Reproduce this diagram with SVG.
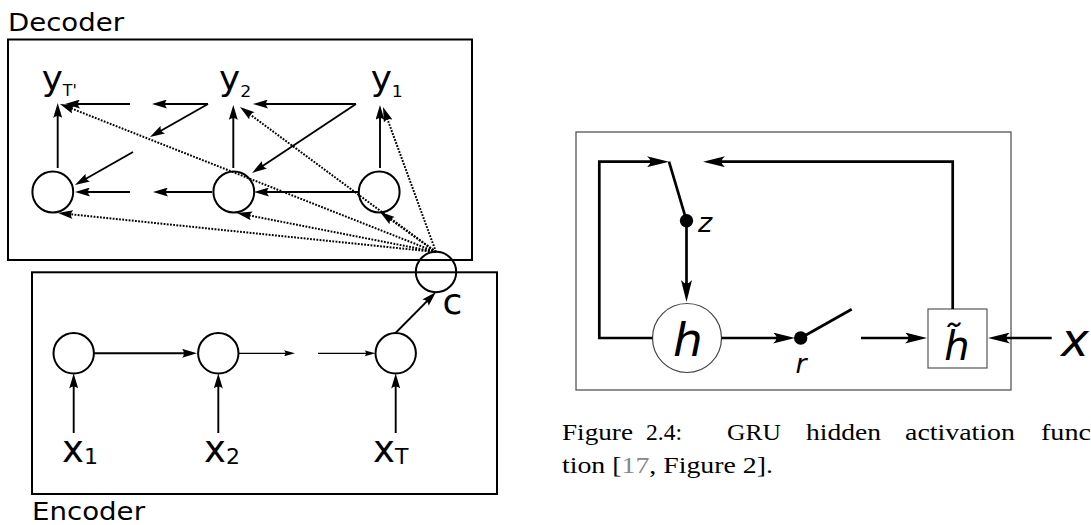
<svg xmlns="http://www.w3.org/2000/svg" width="1091" height="525" viewBox="0 0 1091 525">
<style>
.box{fill:none;stroke:#000;stroke-width:2}
.nd{fill:none;stroke:#000;stroke-width:2}
.ln{fill:none;stroke:#000;stroke-width:1.9}
.thin{fill:none;stroke:#000;stroke-width:1.3}
.dot{fill:none;stroke:#000;stroke-width:2;stroke-dasharray:1.8 1.4}
.g{fill:none;stroke:#000;stroke-width:2.7}
.sans{font-family:"DejaVu Sans",sans-serif;fill:#000}
.it{font-family:"DejaVu Sans",sans-serif;font-style:italic;fill:#000}
.cap{font-family:"Liberation Serif",serif;font-size:23.5px;fill:#000}
</style>
<defs>
<marker id="a" markerUnits="userSpaceOnUse" markerWidth="15" markerHeight="9" viewBox="0 0 15 9" refX="10" refY="4.5" orient="auto"><path d="M15,4.5 L0,0 Q4,4.5 0,9 Z" fill="#000"/></marker>
<marker id="as" markerUnits="userSpaceOnUse" markerWidth="11" markerHeight="6" viewBox="0 0 11 6" refX="7" refY="3" orient="auto"><path d="M11,3 L0,0 Q3,3 0,6 Z" fill="#000"/></marker>
<marker id="ag" markerUnits="userSpaceOnUse" markerWidth="22" markerHeight="11" viewBox="0 0 22 11" refX="14" refY="5.5" orient="auto"><path d="M22,5.5 L0,0 Q7,5.5 0,11 Z" fill="#000"/></marker>
</defs>

<!-- Left figure: boxes and titles -->
<g id="decoder">
<rect class="box" x="8" y="39.5" width="464" height="220.5"/>
<text class="sans" x="8" y="31" font-size="25" textLength="116" lengthAdjust="spacingAndGlyphs">Decoder</text>
</g>
<g id="encoder">
<rect class="box" x="32" y="272.3" width="465" height="221.7"/>
<text class="sans" x="32" y="520" font-size="25" textLength="113" lengthAdjust="spacingAndGlyphs">Encoder</text>
</g>

<g id="dec-yT">
<text class="sans" transform="translate(41.7,90) scale(1.05,1)" font-size="34">y<tspan font-size="15" dy="5.5">T'</tspan></text>
</g>
<g id="dec-y2">
<text class="sans" transform="translate(219,90) scale(1.05,1)" font-size="34">y<tspan font-size="16.5" dy="6.5">2</tspan></text>
</g>
<g id="dec-y1">
<text class="sans" transform="translate(370.7,90) scale(1.05,1)" font-size="34">y<tspan font-size="16.5" dy="6.5">1</tspan></text>
</g>
<g id="dec-h1"><circle class="nd" cx="52.8" cy="192" r="20.4"/></g>
<g id="dec-h2"><circle class="nd" cx="233.8" cy="192" r="20.4"/></g>
<g id="dec-h3"><circle class="nd" cx="379.2" cy="192" r="20.4"/></g>

<g id="ctx">
<circle class="nd" cx="436" cy="272" r="20.2"/>
<text class="sans" x="442.5" y="313.5" font-size="36">c</text>
</g>

<g id="enc-h1"><circle class="nd" cx="73.7" cy="353.3" r="20.2"/></g>
<g id="enc-h2"><circle class="nd" cx="218.3" cy="353.3" r="20.2"/></g>
<g id="enc-h3"><circle class="nd" cx="395.7" cy="353.3" r="20.2"/></g>
<g id="enc-x1"><text class="sans" x="62" y="461.5" font-size="37">x<tspan font-size="22" dy="2.5">1</tspan></text></g>
<g id="enc-x2"><text class="sans" x="204" y="461.5" font-size="37">x<tspan font-size="22" dy="2.5">2</tspan></text></g>
<g id="enc-xT"><text class="sans" x="373" y="461.5" font-size="37">x<tspan font-size="22" dy="2.5">T</tspan></text></g>

<!-- GRU figure -->
<g id="gru-frame"><rect x="576" y="132" width="435" height="258" fill="none" stroke="#555" stroke-width="1.3"/></g>
<g id="gru-h">
<circle cx="687" cy="338" r="34.5" fill="#fff" stroke="#444" stroke-width="1.2"/>
<text class="it" x="688" y="356" font-size="47" text-anchor="middle">h</text>
</g>
<g id="gru-z">
<circle cx="686.5" cy="220.7" r="6.7" fill="#000"/>
<text class="it" x="698" y="231.7" font-size="27">z</text>
</g>
<g id="gru-r">
<circle cx="800.7" cy="338" r="6.7" fill="#000"/>
<text class="it" x="801" y="373" font-size="27" text-anchor="middle">r</text>
</g>
<g id="gru-htilde">
<rect x="928" y="309" width="59" height="59" fill="#fff" stroke="#555" stroke-width="1.2"/>
<text class="it" x="957" y="360" font-size="40" text-anchor="middle">h̃</text>
</g>
<g id="gru-x"><text class="it" x="1061" y="356" font-size="47">x</text></g>

<g id="connectors">
<!-- decoder -->
<line class="ln" x1="57.7" y1="168" x2="57.7" y2="108" marker-end="url(#a)"/>
<line class="ln" x1="130" y1="104" x2="70" y2="104" marker-end="url(#a)"/>
<line class="ln" x1="208" y1="104" x2="157" y2="104" marker-end="url(#a)"/>
<line class="ln" x1="208" y1="104" x2="154.3" y2="134.5" marker-end="url(#a)"/>
<line class="ln" x1="133" y1="152" x2="79.3" y2="182.5" marker-end="url(#a)"/>
<line class="ln" x1="130" y1="192" x2="80" y2="192" marker-end="url(#a)"/>
<line class="ln" x1="212" y1="192" x2="158" y2="192" marker-end="url(#a)"/>
<line class="ln" x1="233.3" y1="168" x2="233.3" y2="110" marker-end="url(#a)"/>
<line class="ln" x1="356" y1="104" x2="258" y2="104" marker-end="url(#a)"/>
<line class="ln" x1="356" y1="104" x2="256.2" y2="170.2" marker-end="url(#a)"/>
<line class="ln" x1="380" y1="168" x2="380" y2="110" marker-end="url(#a)"/>
<line class="ln" x1="358" y1="192" x2="259" y2="192" stroke-width="2.2" marker-end="url(#a)"/>
<!-- attention (dotted) -->
<line class="dot" x1="436" y1="252" x2="64.6" y2="105.8" marker-end="url(#a)"/>
<line class="dot" x1="436" y1="252" x2="244" y2="110" marker-end="url(#a)"/>
<line class="dot" x1="436" y1="252" x2="384.7" y2="111.7" marker-end="url(#a)"/>
<line class="dot" x1="436" y1="252" x2="63" y2="213.5" marker-end="url(#a)"/>
<line class="dot" x1="436" y1="252" x2="241.9" y2="214" marker-end="url(#a)"/>
<line class="dot" x1="436" y1="252" x2="384.1" y2="214.9" marker-end="url(#a)"/>
<!-- encoder -->
<line class="ln" x1="93.9" y1="353.3" x2="192" y2="353.3" stroke-width="2.3" marker-end="url(#a)"/>
<line class="thin" x1="238.5" y1="353.3" x2="291" y2="353.3" marker-end="url(#as)"/>
<line class="thin" x1="318" y1="353.3" x2="371.5" y2="353.3" marker-end="url(#as)"/>
<line class="ln" x1="395.5" y1="333" x2="432.5" y2="295.6" marker-end="url(#a)"/>
<line class="ln" x1="73.7" y1="433" x2="73.7" y2="378.5" marker-end="url(#a)"/>
<line class="ln" x1="218.3" y1="433" x2="218.3" y2="378.5" marker-end="url(#a)"/>
<line class="ln" x1="395.7" y1="433" x2="395.7" y2="378.5" marker-end="url(#a)"/>
<!-- GRU -->
<path class="g" d="M652.5,338 H599.3 V161.7 H661" marker-end="url(#ag)"/>
<line class="g" x1="669" y1="161.7" x2="686.5" y2="220.7" stroke-width="2.4"/>
<line class="g" x1="686.5" y1="221" x2="686.5" y2="294" marker-end="url(#ag)"/>
<path class="g" d="M952.7,309 V161.7 H711" marker-end="url(#ag)"/>
<line class="g" x1="721.5" y1="338" x2="787" y2="338" marker-end="url(#ag)"/>
<line class="g" x1="800.7" y1="338" x2="851.7" y2="309.3" stroke-width="2.4"/>
<line class="g" x1="861" y1="338" x2="919" y2="338" marker-end="url(#ag)"/>
<line class="g" x1="1051.7" y1="338" x2="996" y2="338" marker-end="url(#ag)"/>
</g>

<!-- caption -->
<g id="caption">
<text class="cap" x="562" y="440" textLength="71" lengthAdjust="spacingAndGlyphs">Figure</text>
<text class="cap" x="646" y="440" textLength="36" lengthAdjust="spacingAndGlyphs">2.4:</text>
<text class="cap" x="727" y="440" textLength="54" lengthAdjust="spacingAndGlyphs">GRU</text>
<text class="cap" x="806" y="440" textLength="75" lengthAdjust="spacingAndGlyphs">hidden</text>
<text class="cap" x="905" y="440" textLength="110" lengthAdjust="spacingAndGlyphs">activation</text>
<text class="cap" x="1041" y="440" textLength="50" lengthAdjust="spacingAndGlyphs">func</text>
<text class="cap" x="562" y="472.5" textLength="211" lengthAdjust="spacingAndGlyphs">tion [<tspan fill="#888">17</tspan>, Figure 2].</text>
</g>
</svg>
